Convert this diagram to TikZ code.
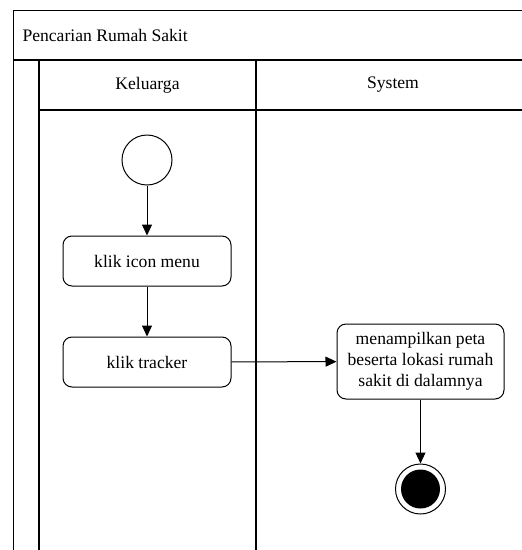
\documentclass[tikz,border=0pt]{standalone}
\usepackage{fontspec}
\setmainfont{Liberation Serif}
\usetikzlibrary{arrows.meta}
\begin{document}
\begin{tikzpicture}[x=1pt,y=-1pt,
  every node/.style={font=\rmfamily\fontsize{17.6}{21}\selectfont},
  frameline/.style={line width=1.2pt},
  actbox/.style={draw,line width=1pt,rounded corners=9pt,align=center,inner sep=0pt},
  flow/.style={line width=1pt,-{Triangle[length=11pt,width=10pt]}}]
\useasboundingbox (0,0) rectangle (522,550);
\clip (0,0) rectangle (522,550);
% frame
\draw[frameline] (13.5,550) -- (13.5,10.5) -- (530,10.5);
\draw[frameline] (13.5,60) -- (530,60);
\draw[frameline] (39,60) -- (39,550);
\draw[frameline] (256,60) -- (256,550);
\draw[frameline] (39,110) -- (530,110);
% labels
\node[anchor=west] (title) at (19,35) {Pencarian Rumah Sakit};
\node (lane1) at (147.5,85) {Keluarga};
\node (lane2) at (393,85) {System};
% nodes
\node[draw,circle,line width=1pt,minimum size=50pt,inner sep=0pt] (start) at (147,160) {};
\node[actbox,minimum width=168pt,minimum height=50pt] (a1) at (147,261) {klik icon menu};
\node[actbox,minimum width=168pt,minimum height=50pt] (a2) at (147,362) {klik tracker};
\node[actbox,minimum width=167pt,minimum height=75pt] (a3) at (420.5,361.5) {menampilkan peta\\beserta lokasi rumah\\sakit di dalamnya};
\node[draw,circle,line width=1pt,minimum size=50pt,inner sep=0pt] (end) at (420.5,489) {};
\fill (end.center) circle (19.5);
% connectors
\draw[flow] (start) -- (a1);
\draw[flow] (a1) -- (a2);
\draw[flow] (a2) -- (a3);
\draw[flow] (a3) -- (end);
\end{tikzpicture}
\end{document}
